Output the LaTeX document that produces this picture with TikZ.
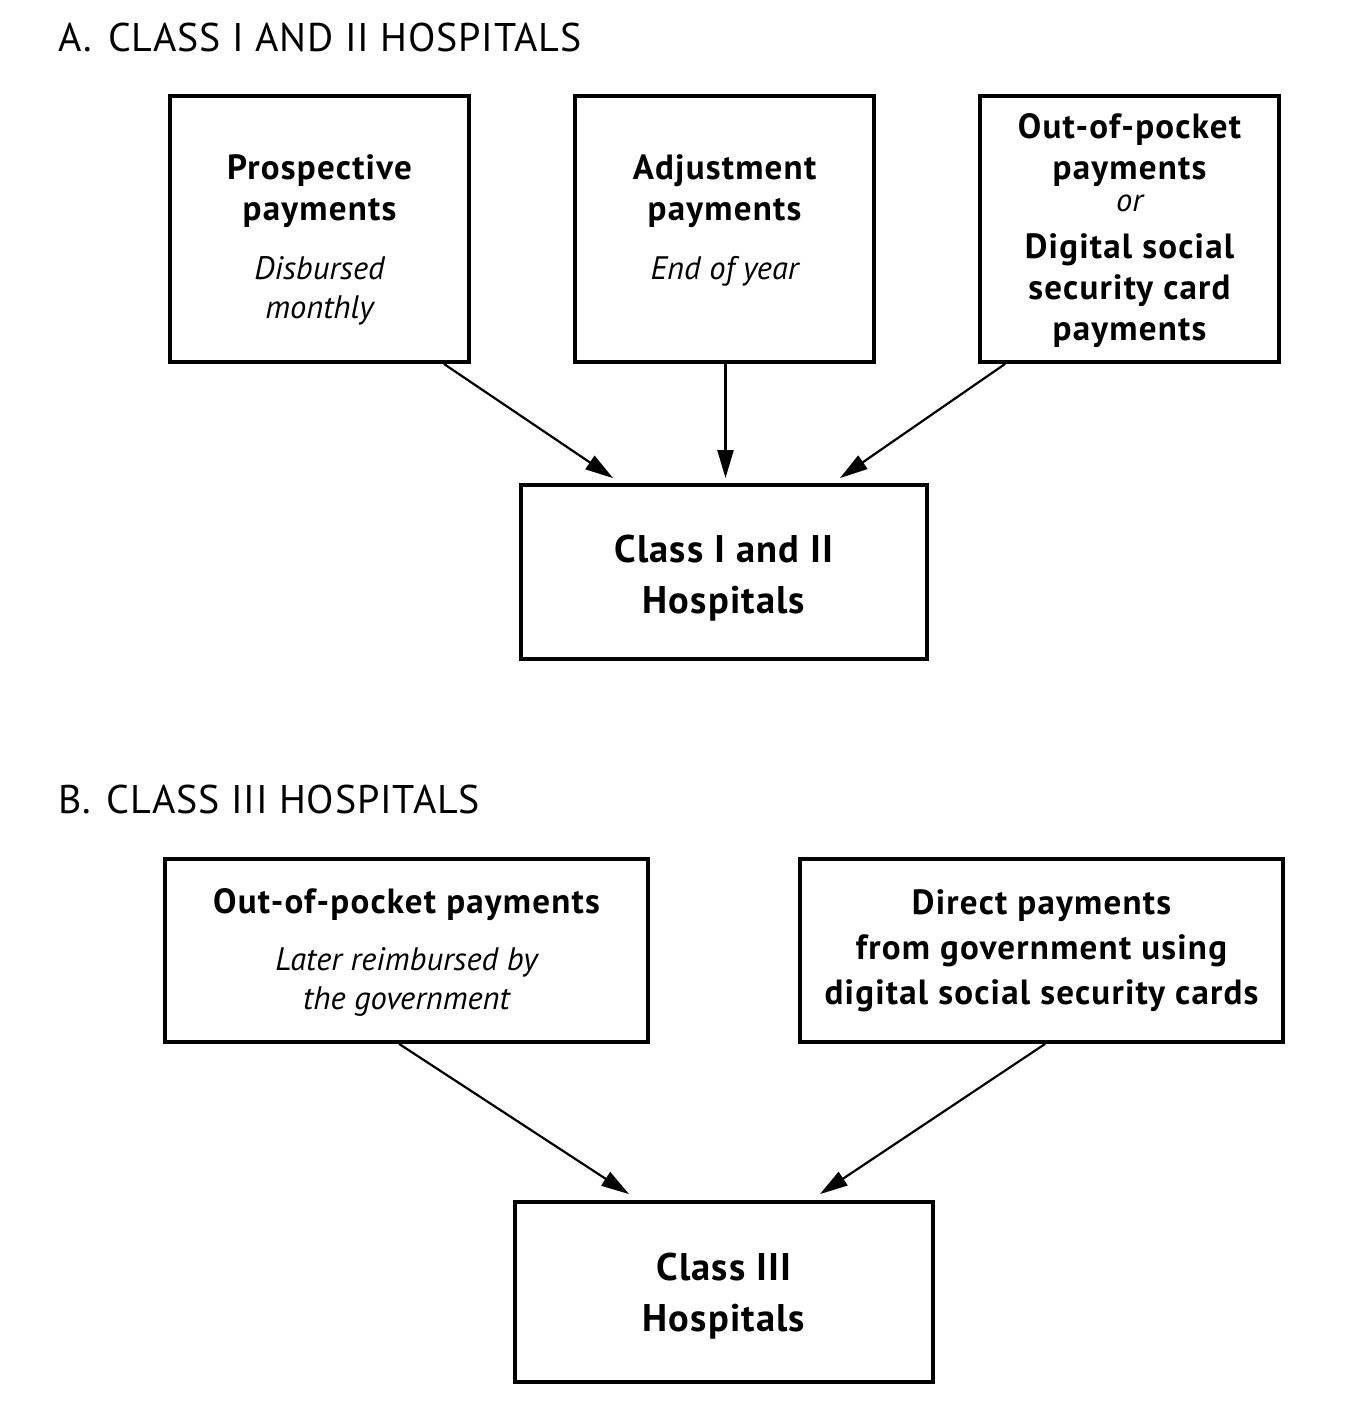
\documentclass[tikz,border=0pt]{standalone}
\usepackage{fontspec}
\setmainfont{PT Sans}
\usetikzlibrary{arrows.meta,calc}
\tikzset{
  box/.style={draw, line width=3.8pt, inner sep=0pt},
  bt/.style={anchor=base, inner sep=0pt, font=\fontsize{35}{42}\selectfont\bfseries\addfontfeatures{LetterSpace=3.5}},
  itx/.style={anchor=base, inner sep=0pt, font=\fontsize{32.5}{38}\selectfont\itshape},
  ttl/.style={anchor=base west, inner sep=0pt, font=\fontsize{40}{48}\selectfont\addfontfeatures{LetterSpace=2}},
  cls/.style={anchor=base, inner sep=0pt, font=\fontsize{38.5}{46}\selectfont\bfseries\addfontfeatures{LetterSpace=3}},
  arr/.style={-{Triangle[length=28pt,width=16pt]}, line width=2.2pt}
}
\begin{document}
\begin{tikzpicture}[x=1pt,y=-1pt]
\useasboundingbox (0,0) rectangle (1350,1408);
% titles
\node[ttl] (ta) at (58,51) {A.\hspace{0.4em}CLASS I AND II HOSPITALS};
\node[ttl] (tb) at (58,813) {B.\hspace{0.4em}CLASS III HOSPITALS};
% boxes A
\node[box, minimum width=299pt, minimum height=266pt] (a1) at (319.5,229) {};
\node[box, minimum width=299pt, minimum height=266pt] (a2) at (724.5,229) {};
\node[box, minimum width=299pt, minimum height=266pt] (a3) at (1129.5,229) {};
\node[box, minimum width=406pt, minimum height=174pt] (a4) at (724,572) {};
% texts A1
\node[bt] (a1l1) at (319.5,179) {Prospective};
\node[bt] (a1l2) at (319.5,220) {payments};
\node[itx] (a1l3) at (319.5,279) {Disbursed};
\node[itx] (a1l4) at (319.5,318) {monthly};
% texts A2
\node[bt] (a2l1) at (724.5,179) {Adjustment};
\node[bt] (a2l2) at (724.5,220) {payments};
\node[itx] (a2l3) at (724.5,279) {End of year};
% texts A3
\node[bt] (a3l1) at (1129.5,138) {Out-of-pocket};
\node[bt] (a3l2) at (1129.5,179) {payments};
\node[itx] (a3l3) at (1129.5,211) {or};
\node[bt] (a3l4) at (1129.5,258) {Digital social};
\node[bt] (a3l5) at (1129.5,299) {security card};
\node[bt] (a3l6) at (1129.5,340) {payments};
% A4
\node[cls] (a4l1) at (724,562) {Class I and II};
\node[cls] (a4l2) at (724,613) {Hospitals};
% arrows A
\draw[arr] ($(a1.south east)+(-27,0)$) -- ($(a4.north west)+(94,-5)$);
\draw[arr] ($(a2.south)+(1,0)$) -- ($(a2.south |- a4.north)+(1,-5)$);
\draw[arr] ($(a3.south west)+(27,0)$) -- ($(a4.north east)+(-89,-5)$);
% boxes B
\node[box, minimum width=483pt, minimum height=183pt] (b1) at (406.5,950.5) {};
\node[box, minimum width=483pt, minimum height=183pt] (b2) at (1041.5,950.5) {};
\node[box, minimum width=418pt, minimum height=180pt] (b3) at (724,1292) {};
% texts B1
\node[bt] (b1l1) at (406.5,913) {Out-of-pocket payments};
\node[itx] (b1l2) at (406.5,970) {Later reimbursed by};
\node[itx] (b1l3) at (406.5,1009) {the government};
% texts B2
\node[bt] (b2l1) at (1041.5,914) {Direct payments};
\node[bt] (b2l2) at (1041.5,959) {from government using};
\node[bt] (b2l3) at (1041.5,1004) {digital social security cards};
% B3
\node[cls] (b3l1) at (724,1280) {Class III};
\node[cls] (b3l2) at (724,1331) {Hospitals};
% arrows B
\draw[arr] ($(b1.south west)+(236,0)$) -- ($(b3.north west)+(116,-6)$);
\draw[arr] ($(b2.south west)+(247,0)$) -- ($(b3.north east)+(-115,-6)$);
\end{tikzpicture}
\end{document}
